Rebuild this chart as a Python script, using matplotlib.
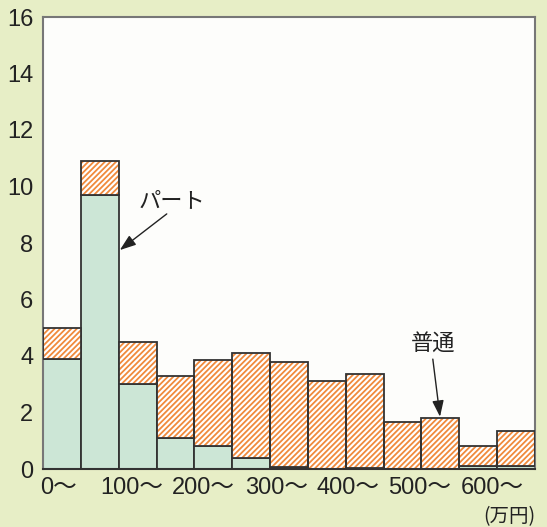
import matplotlib
matplotlib.use("Agg")
import matplotlib.pyplot as plt
import numpy as np

plt.rcParams['font.family'] = ['Liberation Sans', 'Noto Sans CJK JP', 'DejaVu Sans']
plt.rcParams['hatch.linewidth'] = 1.3

# Data: income bins (万円), width 50
bin_starts = [0, 50, 100, 150, 200, 250, 300, 350, 400, 450, 500, 550, 600]
part_values = [3.9, 9.7, 3.0, 1.1, 0.8, 0.4, 0.08, 0.0, 0.05, 0.0, 0.0, 0.12, 0.1]
regular_values = [1.1, 1.2, 1.5, 2.2, 3.05, 3.7, 3.72, 3.1, 3.3, 1.67, 1.8, 0.68, 1.25]
xtick_labels = ["0～", "100～", "200～", "300～", "400～", "500～", "600～"]
xtick_pos = [21, 117, 212, 308, 403, 498, 593]
ytick_vals = [0, 2, 4, 6, 8, 10, 12, 14, 16]

bg = "#e7eec6"
green = "#cce6d6"
orange = "#f08a3c"
edge = "#333333"
txt = "#222222"

fig = plt.figure(figsize=(5.47, 5.27), dpi=100, facecolor=bg)
ax = fig.add_axes([43/547, 58/527, 492/547, 452/527])
ax.set_facecolor("#fdfdfb")

x = np.array(bin_starts)
w = 50
part = np.array(part_values)
reg = np.array(regular_values)

ax.bar(x, part, width=w, align='edge', color=green, edgecolor=edge, linewidth=1.3, zorder=2)
ax.bar(x, reg, width=w, bottom=part, align='edge', color='white', edgecolor=orange,
       hatch='//////', linewidth=0, zorder=2)
ax.bar(x, reg, width=w, bottom=part, align='edge', color='none', edgecolor=edge,
       linewidth=1.3, zorder=3)

ax.set_xlim(0, 650)
ax.set_ylim(0, 16)
ax.set_yticks(ytick_vals)
ax.set_yticklabels([str(v) for v in ytick_vals], fontsize=17, color=txt)
ax.set_xticks(xtick_pos)
ax.set_xticklabels(xtick_labels, fontsize=17, color=txt)
ax.tick_params(axis='both', length=0)
ax.tick_params(axis='y', pad=7)
ax.tick_params(axis='x', pad=6)

for s in ax.spines.values():
    s.set_color("#777777")
    s.set_linewidth(1.5)
ax.spines['bottom'].set_color(edge)

ax.text(1.0, -0.083, "(万円)", transform=ax.transAxes, ha='right', va='top',
        fontsize=14, color=txt, family=['Noto Sans CJK JP'])

ax.text(170, 9.5, "パート", fontsize=16, ha='center', va='center', color=txt,
        family=['Noto Sans CJK JP'])
ax.annotate("", xy=(101.5, 7.75), xytext=(163.5, 9.03),
            arrowprops=dict(arrowstyle='-|>,head_length=0.7,head_width=0.25', color=txt, lw=1.0,
                            mutation_scale=14, shrinkA=0, shrinkB=0))
ax.text(516, 4.45, "普通", fontsize=16, ha='center', va='center', color=txt,
        family=['Noto Sans CJK JP'])
ax.annotate("", xy=(524.5, 1.85), xytext=(515, 3.89),
            arrowprops=dict(arrowstyle='-|>,head_length=0.7,head_width=0.25', color=txt, lw=1.0,
                            mutation_scale=14, shrinkA=0, shrinkB=0))

fig.savefig("out.png", dpi=100, facecolor=bg)
